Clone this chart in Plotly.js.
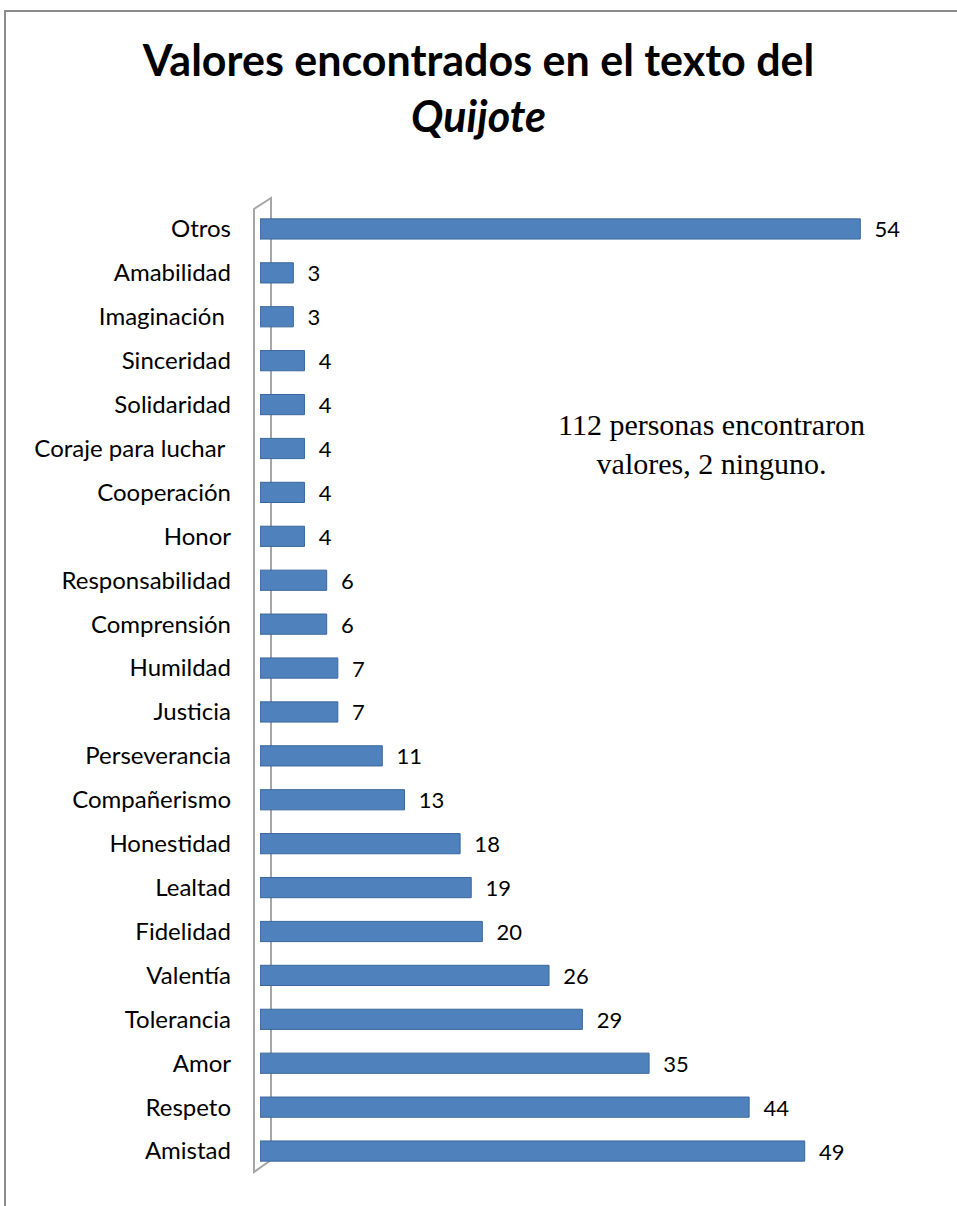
<!DOCTYPE html>
<html>
<head>
<meta charset="utf-8">
<script src="https://cdn.plot.ly/plotly-3.0.1.min.js"></script>
<style>html,body{margin:0;padding:0;background:#fff;}#chart{width:957px;height:1206px;}</style>
</head>
<body>
<div id="chart"></div>
<script>
// Categories listed from top to bottom as shown in the chart
const categories = ["Otros", "Amabilidad", "Imaginación ", "Sinceridad", "Solidaridad", "Coraje para luchar ",
  "Cooperación", "Honor", "Responsabilidad", "Comprensión", "Humildad", "Justicia", "Perseverancia",
  "Compañerismo", "Honestidad", "Lealtad", "Fidelidad", "Valentía", "Tolerancia", "Amor", "Respeto", "Amistad"];
const values = [54, 3, 3, 4, 4, 4, 4, 4, 6, 6, 7, 7, 11, 13, 18, 19, 20, 26, 29, 35, 44, 49];
const titleText = "<b>Valores encontrados en el texto del<br><i>Quijote</i></b>";
const noteText = "112 personas encontraron<br>valores, 2 ninguno.";

const W = 957, H = 1206;
const M = {l: 260, r: 30, t: 207, b: 33};
const PW = W - M.l - M.r, PH = H - M.t - M.b;
const px = x => (x - M.l) / PW;
const py = y => 1 - (y - M.t) / PH;

const wallColor = "#a6a6a6";
const shapes = [
  // outer frame
  {type: "rect", xref: "paper", yref: "paper", x0: px(5), x1: px(1000), y0: py(11), y1: py(1300),
   line: {color: "#8c8c8c", width: 2}, layer: "below"},
  // 3D wall of category axis
  {type: "path", xref: "paper", yref: "paper",
   path: `M ${px(254)} ${py(1172)} L ${px(254)} ${py(209)} L ${px(271)} ${py(198)} L ${px(271)} ${py(1160)} Z`,
   line: {color: wallColor, width: 2}, fillcolor: "rgba(0,0,0,0)", layer: "below"}
];

const trace = {
  type: "bar",
  orientation: "h",
  y: categories,
  x: values,
  marker: {color: "#4F81BD", line: {color: "#3A679C", width: 1}},
  text: values.map(v => "  " + v),
  textposition: "outside",
  constraintext: "none",
  cliponaxis: false,
  textfont: {family: "Lato, 'DejaVu Sans', sans-serif", size: 22, color: "#000"},
  hoverinfo: "none"
};

const layout = {
  width: W, height: H,
  margin: M,
  paper_bgcolor: "#fff",
  plot_bgcolor: "rgba(0,0,0,0)",
  showlegend: false,
  bargap: 0.54,
  title: {
    text: titleText,
    font: {family: "Lato, 'DejaVu Sans', sans-serif", size: 43, color: "#000"},
    x: 0.5, xref: "container", xanchor: "center",
    y: 1 - 76 / H, yref: "container", yanchor: "middle"
  },
  xaxis: {
    range: [0, 60], visible: false, fixedrange: true
  },
  yaxis: {
    type: "category", autorange: "reversed",
    showline: false, showgrid: false, zeroline: false,
    ticks: "", ticklabelstandoff: 28,
    tickfont: {family: "Lato, 'DejaVu Sans', sans-serif", size: 24, color: "#000"},
    fixedrange: true
  },
  shapes: shapes,
  annotations: [{
    xref: "paper", yref: "paper", x: px(711), y: py(444),
    xanchor: "center", yanchor: "middle", align: "center",
    text: noteText, showarrow: false,
    font: {family: "'Liberation Serif', 'Times New Roman', serif", size: 30, color: "#000"}
  }]
};

Plotly.newPlot("chart", [trace], layout, {displayModeBar: false, staticPlot: true});
</script>
</body>
</html>
